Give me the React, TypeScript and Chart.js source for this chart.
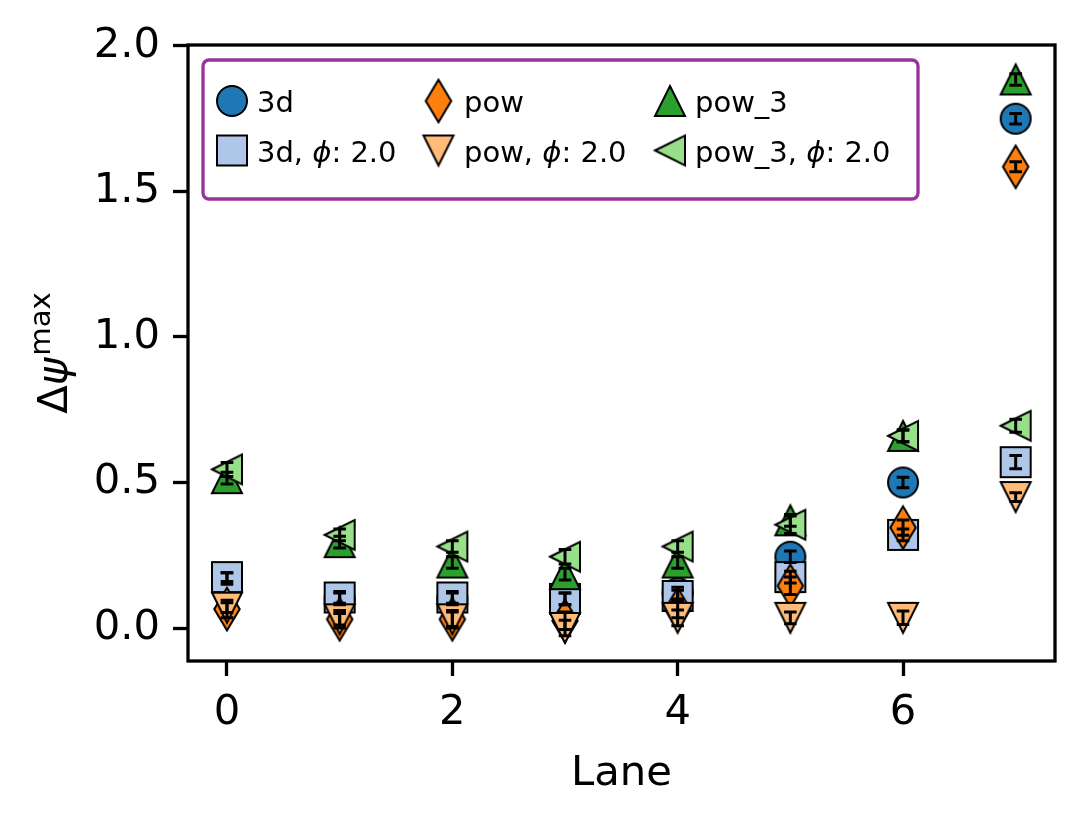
import React, { useEffect, useRef } from 'react';
import { Chart, registerables } from 'chart.js';

Chart.register(...registerables);

// ---------- data ----------
const lanes = [0, 1, 2, 3, 4, 5, 6, 7];

const val3d = [0.17, 0.1, 0.1, 0.1, 0.12, 0.245, 0.5, 1.75];
const err3d = [0.02, 0.02, 0.02, 0.02, 0.02, 0.02, 0.018, 0.018];

const val3dPhi = [0.175, 0.105, 0.105, 0.1, 0.11, 0.175, 0.32, 0.57];
const err3dPhi = [0.015, 0.02, 0.02, 0.02, 0.02, 0.02, 0.02, 0.023];

const valPow = [0.065, 0.03, 0.03, 0.025, 0.065, 0.145, 0.345, 1.585];
const errPow = [0.03, 0.03, 0.03, 0.03, 0.03, 0.03, 0.026, 0.017];

const valPowPhi = [0.07, 0.03, 0.03, 0.0, 0.035, 0.035, 0.035, 0.45];
const errPowPhi = [0.017, 0.02, 0.025, 0.027, 0.027, 0.02, 0.023, 0.015];

const valPow3 = [0.515, 0.295, 0.225, 0.185, 0.225, 0.37, 0.66, 1.885];
const errPow3 = [0.02, 0.02, 0.02, 0.02, 0.02, 0.02, 0.02, 0.02];

const valPow3Phi = [0.545, 0.32, 0.28, 0.245, 0.28, 0.355, 0.66, 0.695];
const errPow3Phi = [0.024, 0.02, 0.02, 0.025, 0.02, 0.03, 0.02, 0.022];

const xTickValues = [0, 2, 4, 6];
const yTickValues = [0, 0.5, 1.0, 1.5, 2.0];
const phiValue = '2.0';

// ---------- styling ----------
const FONT = "'DejaVu Sans'";
const MS = 30; // marker size in px

type Shape = 'circle' | 'square' | 'diamond' | 'triDown' | 'triUp' | 'triLeft';

const series: { label: string; phi: boolean; shape: Shape; color: string; values: number[]; err: number[] }[] = [
  { label: '3d', phi: false, shape: 'circle', color: '#1f77b4', values: val3d, err: err3d },
  { label: '3d', phi: true, shape: 'square', color: '#aec7e8', values: val3dPhi, err: err3dPhi },
  { label: 'pow', phi: false, shape: 'diamond', color: '#ff7f0e', values: valPow, err: errPow },
  { label: 'pow', phi: true, shape: 'triDown', color: '#ffbb78', values: valPowPhi, err: errPowPhi },
  { label: 'pow_3', phi: false, shape: 'triUp', color: '#2ca02c', values: valPow3, err: errPow3 },
  { label: 'pow_3', phi: true, shape: 'triLeft', color: '#98df8a', values: valPow3Phi, err: errPow3Phi },
];

function makeMarker(shape: Shape, fill: string): HTMLCanvasElement {
  const pad = 6;
  let w = MS;
  let h = MS;
  if (shape === 'diamond') {
    h = MS * Math.SQRT2;
    w = 0.6 * h;
  }
  const c = document.createElement('canvas');
  let cw = Math.ceil(w + 2 * pad);
  let ch = Math.ceil(h + 2 * pad);
  if (cw % 2) cw++;
  if (ch % 2) ch++;
  c.width = cw;
  c.height = ch;
  const ctx = c.getContext('2d')!;
  const cx = cw / 2;
  const cy = ch / 2;
  const r = MS / 2;
  ctx.beginPath();
  switch (shape) {
    case 'circle':
      ctx.arc(cx, cy, r, 0, Math.PI * 2);
      break;
    case 'square':
      ctx.rect(cx - r, cy - r, MS, MS);
      break;
    case 'diamond':
      ctx.moveTo(cx, cy - h / 2);
      ctx.lineTo(cx + w / 2, cy);
      ctx.lineTo(cx, cy + h / 2);
      ctx.lineTo(cx - w / 2, cy);
      break;
    case 'triUp':
      ctx.moveTo(cx, cy - r);
      ctx.lineTo(cx + r, cy + r);
      ctx.lineTo(cx - r, cy + r);
      break;
    case 'triDown':
      ctx.moveTo(cx, cy + r);
      ctx.lineTo(cx - r, cy - r);
      ctx.lineTo(cx + r, cy - r);
      break;
    case 'triLeft':
      ctx.moveTo(cx - r, cy);
      ctx.lineTo(cx + r, cy - r);
      ctx.lineTo(cx + r, cy + r);
      break;
  }
  ctx.closePath();
  ctx.fillStyle = fill;
  ctx.fill();
  ctx.lineJoin = 'miter';
  ctx.lineWidth = 2;
  ctx.strokeStyle = '#000';
  ctx.stroke();
  return c;
}

export default function App() {
  const canvasRef = useRef<HTMLCanvasElement | null>(null);

  useEffect(() => {
    const canvas = canvasRef.current;
    if (!canvas) return;
    const markers = series.map((s) => makeMarker(s.shape, s.color));

    const decor = {
      id: 'decor',
      afterDatasetsDraw(chart: any) {
        const ctx: CanvasRenderingContext2D = chart.ctx;
        const xs = chart.scales.x;
        const ys = chart.scales.y;
        const a = chart.chartArea;
        ctx.save();

        // error bars
        ctx.strokeStyle = '#000';
        ctx.lineWidth = 3;
        ctx.lineCap = 'butt';
        const cap = 6.3;
        series.forEach((s) => {
          s.values.forEach((v, j) => {
            const x = xs.getPixelForValue(lanes[j]);
            const y1 = ys.getPixelForValue(v - s.err[j]);
            const y2 = ys.getPixelForValue(v + s.err[j]);
            ctx.beginPath();
            ctx.moveTo(x, y1);
            ctx.lineTo(x, y2);
            ctx.moveTo(x - cap, y1);
            ctx.lineTo(x + cap, y1);
            ctx.moveTo(x - cap, y2);
            ctx.lineTo(x + cap, y2);
            ctx.stroke();
          });
        });

        // frame
        ctx.lineWidth = 3.3;
        ctx.strokeRect(a.left, a.top, a.right - a.left, a.bottom - a.top);

        // legend box
        const lx = 203, ly = 60, lw = 715, lh = 139, rr = 6;
        ctx.beginPath();
        ctx.moveTo(lx + rr, ly);
        ctx.lineTo(lx + lw - rr, ly);
        ctx.arcTo(lx + lw, ly, lx + lw, ly + rr, rr);
        ctx.lineTo(lx + lw, ly + lh - rr);
        ctx.arcTo(lx + lw, ly + lh, lx + lw - rr, ly + lh, rr);
        ctx.lineTo(lx + rr, ly + lh);
        ctx.arcTo(lx, ly + lh, lx, ly + lh - rr, rr);
        ctx.lineTo(lx, ly + rr);
        ctx.arcTo(lx, ly, lx + rr, ly, rr);
        ctx.closePath();
        ctx.fillStyle = 'rgba(255,255,255,0.8)';
        ctx.fill();
        ctx.strokeStyle = 'rgb(153,51,153)';
        ctx.lineWidth = 3.3;
        ctx.stroke();

        const colMarkerX = [232, 438.5, 670];
        const colTextX = [257, 464, 695];
        const rowY = [101, 150.5];
        ctx.fillStyle = '#000';
        ctx.textBaseline = 'alphabetic';
        ctx.textAlign = 'left';
        series.forEach((s, i) => {
          const col = Math.floor(i / 2);
          const row = i % 2;
          const m = markers[i];
          ctx.drawImage(m, colMarkerX[col] - m.width / 2, rowY[row] - m.height / 2);
          const baseY = rowY[row] + 11;
          let x = colTextX[col];
          const normal = `29px ${FONT}`;
          const ital = `italic 29px ${FONT}`;
          const segs: [string, string][] = s.phi
            ? [[s.label + ', ', normal], ['\u03d5', ital], [': ' + phiValue, normal]]
            : [[s.label, normal]];
          segs.forEach(([t, f]) => {
            ctx.font = f;
            ctx.fillText(t, x, baseY);
            x += ctx.measureText(t).width;
          });
        });

        // x axis title
        ctx.font = `41.7px ${FONT}`;
        ctx.textAlign = 'center';
        ctx.fillText('Lane', (a.left + a.right) / 2, 785);

        // y axis title: Δψ^max
        const cy = (a.top + a.bottom) / 2;
        const mainF = `41.7px ${FONT}`;
        const italF = `italic 41.7px ${FONT}`;
        const supF = `29.2px ${FONT}`;
        ctx.font = mainF;
        const wD = ctx.measureText('\u0394').width;
        ctx.font = italF;
        const wP = ctx.measureText('\u03c8').width;
        ctx.font = supF;
        const wM = ctx.measureText('max').width;
        const total = wD + wP + 2 + wM;
        ctx.translate(67, cy);
        ctx.rotate(-Math.PI / 2);
        ctx.textAlign = 'left';
        let tx = -total / 2;
        ctx.font = mainF;
        ctx.fillText('\u0394', tx, 0);
        tx += wD;
        ctx.font = italF;
        ctx.fillText('\u03c8', tx, 0);
        tx += wP + 2;
        ctx.font = supF;
        ctx.fillText('max', tx, -17);
        ctx.restore();
      },
    };

    const chart = new Chart(canvas, {
      type: 'scatter',
      data: {
        datasets: series.map((s, i) => ({
          label: s.label + (s.phi ? ', \u03d5: ' + phiValue : ''),
          data: s.values.map((v, j) => ({ x: lanes[j], y: v })),
          pointStyle: markers[i] as any,
          pointRadius: 15,
          pointHoverRadius: 15,
          showLine: false,
          order: series.length - i,
        })),
      },
      options: {
        responsive: false,
        devicePixelRatio: 1,
        animation: false,
        events: [],
        layout: { padding: { left: 0, top: 45, right: 29, bottom: 0 } },
        plugins: { legend: { display: false }, tooltip: { enabled: false } },
        scales: {
          x: {
            type: 'linear',
            min: -0.346,
            max: 7.349,
            afterFit: (scale: any) => {
              scale.height = 161;
            },
            afterBuildTicks: (scale: any) => {
              scale.ticks = xTickValues.map((value) => ({ value }));
            },
            border: { display: false },
            grid: {
              display: true,
              drawOnChartArea: false,
              drawTicks: true,
              tickLength: 15,
              tickWidth: 3.3,
              tickColor: '#000',
            },
            ticks: {
              color: '#000',
              font: { family: 'DejaVu Sans', size: 41.7 },
              padding: 12,
              maxRotation: 0,
              autoSkip: false,
              callback: (v: any) => String(v),
            },
          },
          y: {
            type: 'linear',
            min: -0.1134,
            max: 2.0034,
            afterFit: (scale: any) => {
              scale.width = 188;
            },
            afterBuildTicks: (scale: any) => {
              scale.ticks = yTickValues.map((value) => ({ value }));
            },
            border: { display: false },
            grid: {
              display: true,
              drawOnChartArea: false,
              drawTicks: true,
              tickLength: 15,
              tickWidth: 3.3,
              tickColor: '#000',
            },
            ticks: {
              color: '#000',
              font: { family: 'DejaVu Sans', size: 41.7 },
              padding: 13,
              autoSkip: false,
              callback: (v: any) => Number(v).toFixed(1),
            },
          },
        },
      },
      plugins: [decor],
    });

    return () => chart.destroy();
  }, []);

  return (
    <div style={{ position: 'absolute', left: 0, top: 0, width: 1084, height: 822, background: '#fff' }}>
      <canvas ref={canvasRef} width={1084} height={822} style={{ display: 'block' }} />
    </div>
  );
}
